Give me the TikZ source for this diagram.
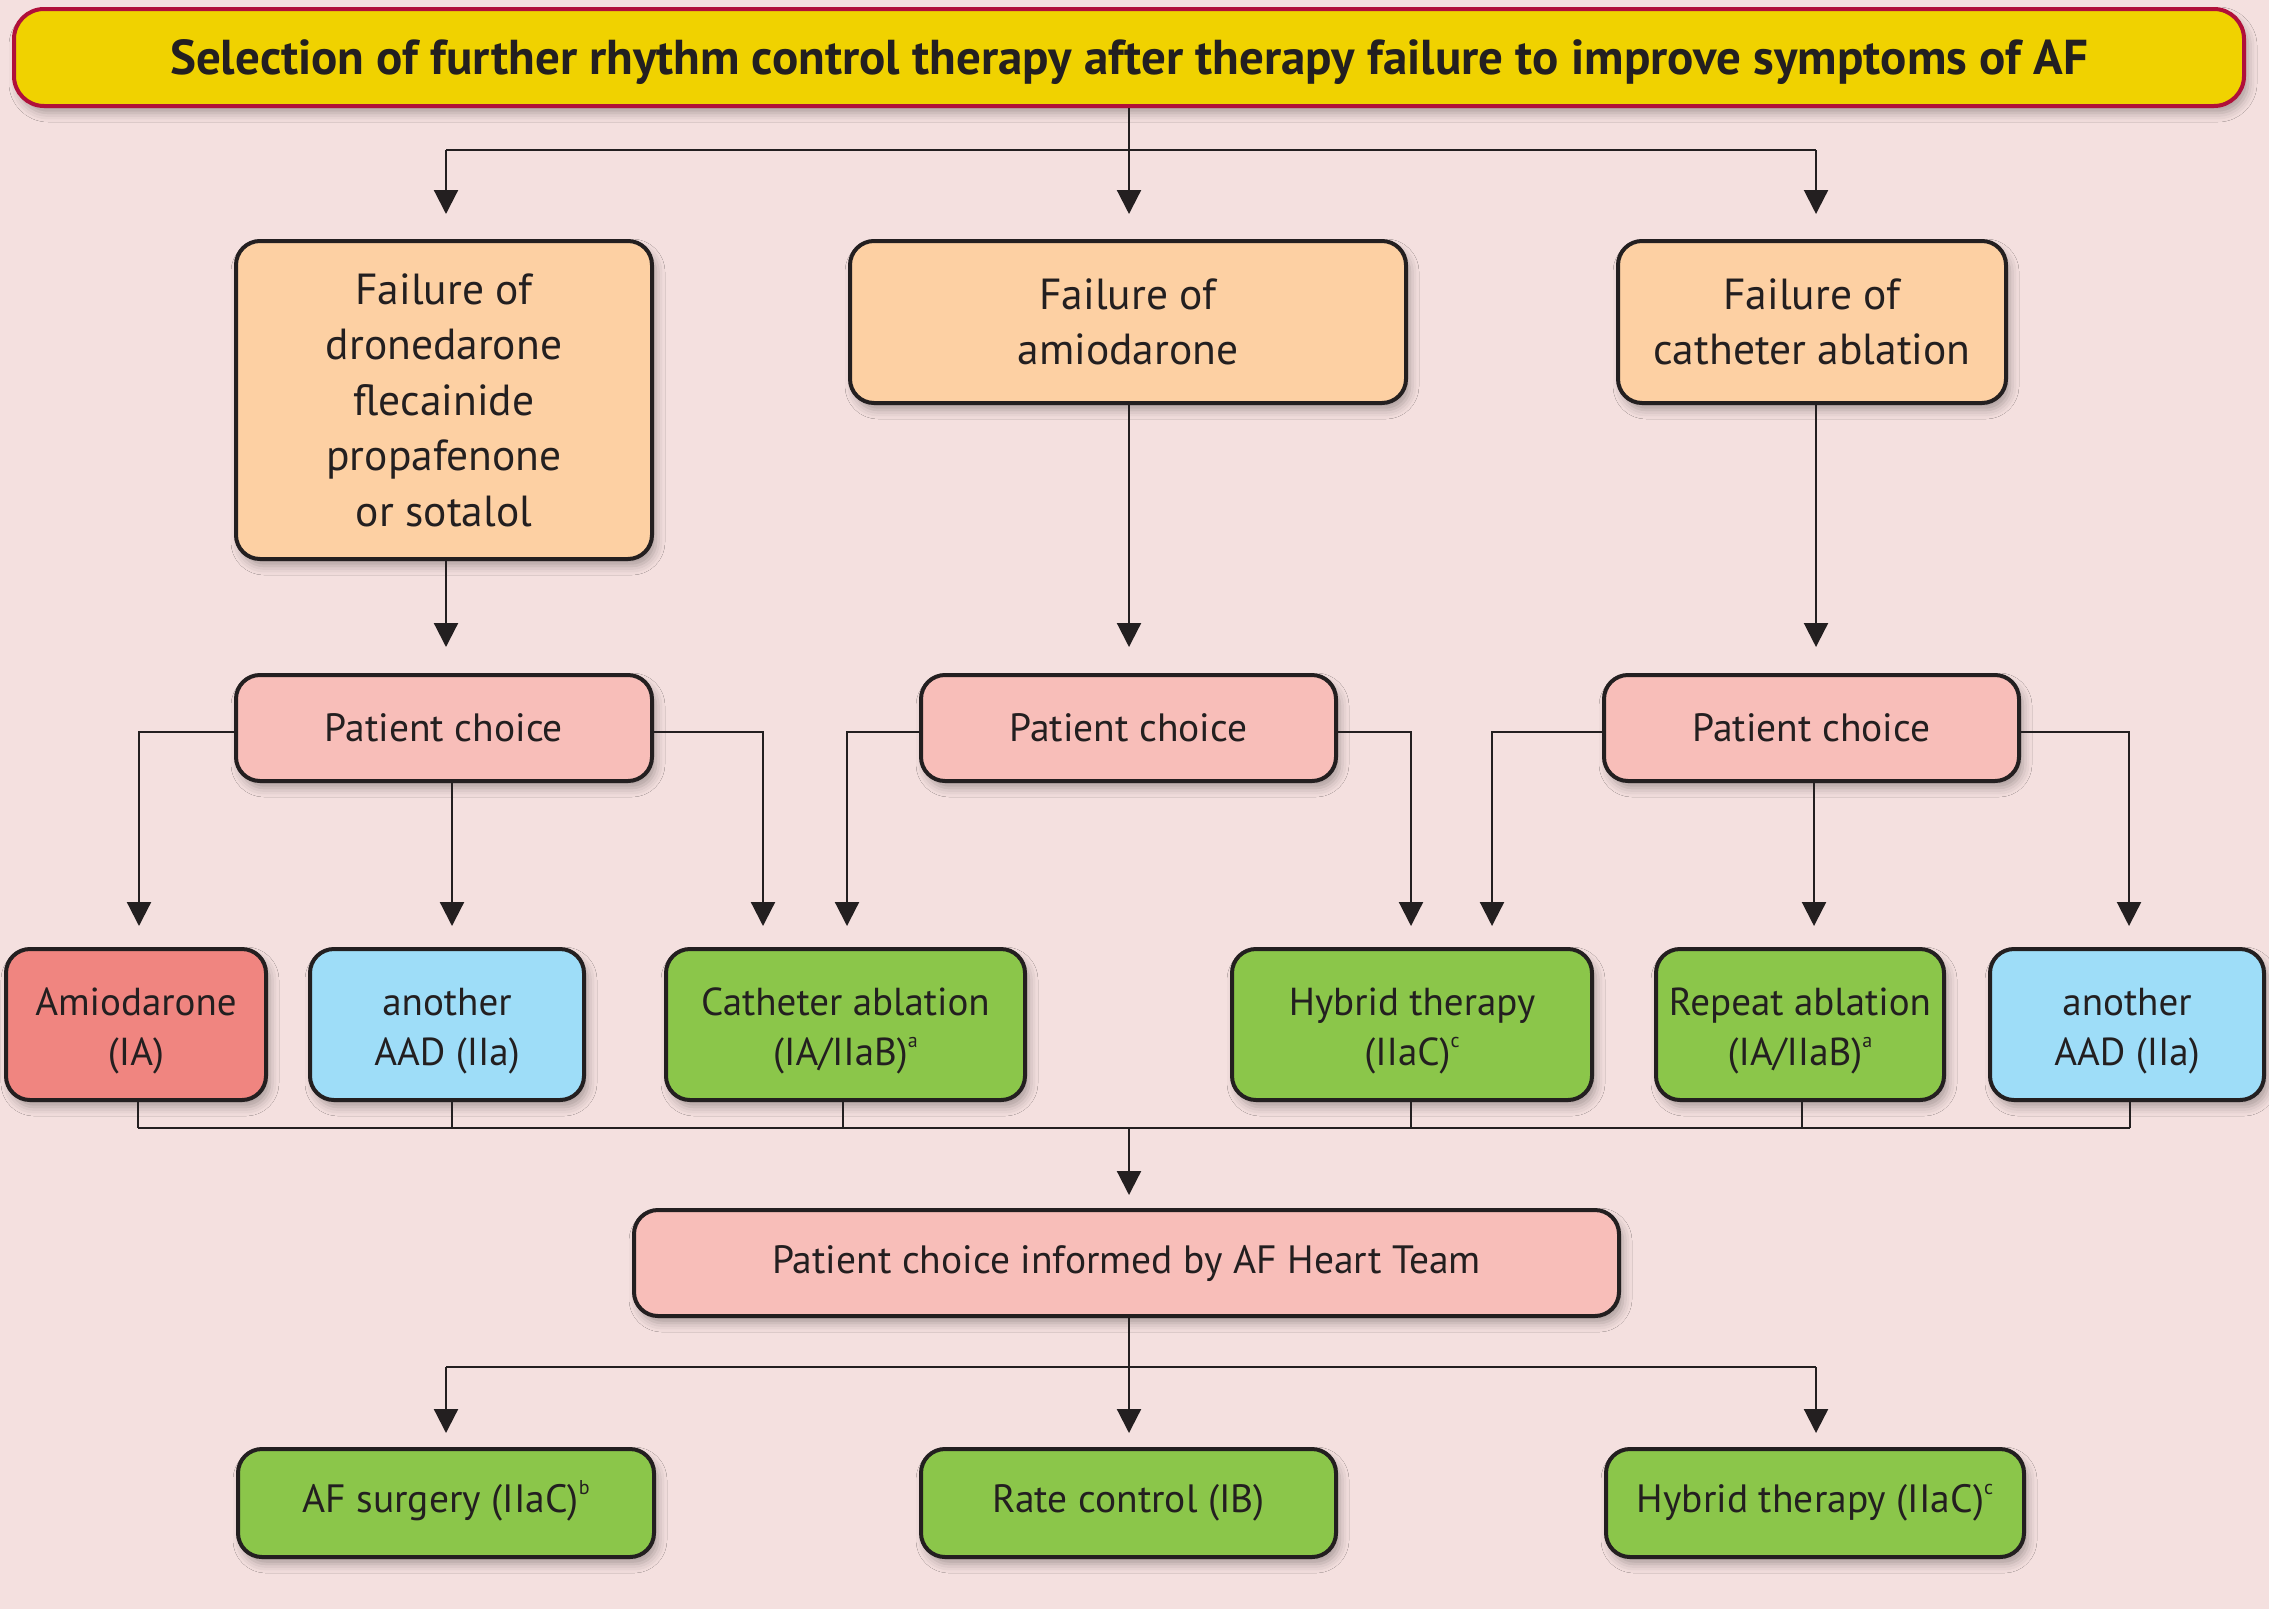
\documentclass[tikz,border=0pt]{standalone}
\usepackage{fontspec}
\setmainfont{PT Sans}
\usetikzlibrary{arrows.meta,shadows.blur}
\definecolor{bg}{HTML}{F4E0DF}
\definecolor{ink}{HTML}{231F20}
\definecolor{titlefill}{HTML}{F0D200}
\definecolor{titleedge}{HTML}{B0103A}
\definecolor{orangefill}{HTML}{FDD0A3}
\definecolor{pinkfill}{HTML}{F8BEB9}
\definecolor{salmonfill}{HTML}{F08580}
\definecolor{bluefill}{HTML}{9EDDF8}
\definecolor{greenfill}{HTML}{8BC64A}
\newcommand{\noteup}[1]{\raisebox{0.45em}[0pt][0pt]{\fontsize{20}{20}\selectfont #1}}
\newcommand{\lowstrut}{\rule{0pt}{40pt}}
\tikzset{
  box/.style={draw=ink, line width=4pt, rounded corners=24pt, align=center, text=ink, inner sep=0pt,
    blur shadow={shadow xshift=4pt, shadow yshift=-7pt, shadow blur radius=9pt, shadow opacity=30}},
  bigtxt/.style={font=\fontsize{43.5}{55.5}\selectfont},
  midtxt/.style={font=\fontsize{39.5}{50}\selectfont},
  smalltxt/.style={font=\fontsize{39}{50}\selectfont},
  conn/.style={draw=ink, line width=2.2pt},
  arr/.style={conn, -{Triangle[width=24pt,length=24pt]}},
}
\begin{document}
\begin{tikzpicture}[x=1pt,y=-1pt]
\fill[bg] (0,0) rectangle (2269,1609);
\useasboundingbox (0,0) rectangle (2269,1609);

% title
\node[box, draw=titleedge, fill=titlefill, minimum width=2230pt, minimum height=97pt, rounded corners=30pt,
  font=\bfseries\fontsize{49}{55}\selectfont] (title) at (1129,57.5)
  {\rule{0pt}{44pt}Selection of further rhythm control therapy after therapy failure to improve symptoms of AF};

% row 1
\node[box, fill=orangefill, minimum width=416pt, minimum height=318pt, bigtxt] (fa) at (444,400)
  {Failure of\\dronedarone\\flecainide\\propafenone\\or sotalol};
\node[box, fill=orangefill, minimum width=556pt, minimum height=162pt, bigtxt] (fb) at (1128,322)
  {Failure of\\amiodarone};
\node[box, fill=orangefill, minimum width=388pt, minimum height=162pt, bigtxt] (fc) at (1812,322)
  {Failure of\\catheter ablation};

% row 2
\node[box, fill=pinkfill, minimum width=416pt, minimum height=106pt, midtxt] (pa) at (444,728) {Patient choice};
\node[box, fill=pinkfill, minimum width=415pt, minimum height=106pt, midtxt] (pb) at (1128.5,728) {Patient choice};
\node[box, fill=pinkfill, minimum width=415pt, minimum height=106pt, midtxt] (pc) at (1811.5,728) {Patient choice};

% row 3
\node[box, fill=salmonfill, minimum width=260pt, minimum height=151pt, smalltxt] (amio) at (136,1024.5)
  {\lowstrut Amiodarone\\(IA)};
\node[box, fill=bluefill, minimum width=274pt, minimum height=151pt, smalltxt] (aada) at (447,1024.5)
  {\lowstrut another\\AAD (IIa)};
\node[box, fill=greenfill, minimum width=359pt, minimum height=151pt, smalltxt] (cath) at (845.5,1024.5)
  {\lowstrut Catheter ablation\\(IA/IIaB)\noteup{a}};
\node[box, fill=greenfill, minimum width=360pt, minimum height=151pt, smalltxt] (hyb) at (1412,1024.5)
  {\lowstrut Hybrid therapy\\(IIaC)\noteup{c}};
\node[box, fill=greenfill, minimum width=288pt, minimum height=151pt, smalltxt] (rep) at (1800,1024.5)
  {\lowstrut Repeat ablation\\(IA/IIaB)\noteup{a}};
\node[box, fill=bluefill, minimum width=274pt, minimum height=151pt, smalltxt] (aadb) at (2127,1024.5)
  {\lowstrut another\\AAD (IIa)};

% team
\node[box, fill=pinkfill, minimum width=985pt, minimum height=106pt, midtxt] (team) at (1126.5,1263)
  {Patient choice informed by AF Heart Team};

% bottom row
\node[box, fill=greenfill, minimum width=416pt, minimum height=108pt, midtxt] (surg) at (446,1503)
  {AF surgery (IIaC)\noteup{b}};
\node[box, fill=greenfill, minimum width=415pt, minimum height=108pt, midtxt] (rate) at (1128.5,1503)
  {Rate control (IB)};
\node[box, fill=greenfill, minimum width=418pt, minimum height=108pt, midtxt] (hybb) at (1815,1503)
  {Hybrid therapy (IIaC)\noteup{c}};

% connectors: title to row 1
\coordinate (tj) at (1129,150);
\coordinate (tl) at (446,150);
\coordinate (tr) at (1816,150);
\draw[conn] (title.south -| tj) -- (tj);
\draw[conn] (tl) -- (tr);
\draw[arr, shorten >=25pt] (tl) -- (tl |- fa.north);
\draw[arr, shorten >=25pt] (tj) -- (tj |- fb.north);
\draw[arr, shorten >=25pt] (tr) -- (tr |- fc.north);

% row 1 to patient choice
\draw[arr, shorten >=26pt] (fa.south -| tl) -- (tl |- pa.north);
\draw[arr, shorten >=26pt] (fb.south -| tj) -- (tj |- pb.north);
\draw[arr, shorten >=26pt] (fc.south -| tr) -- (tr |- pc.north);

% patient choice to row 3
\coordinate (a1) at (139,732);
\coordinate (a2) at (763,732);
\coordinate (b1) at (847,732);
\coordinate (b2) at (1411,732);
\coordinate (c1) at (1492,732);
\coordinate (c2) at (2129,732);
\coordinate (am) at (452,732);
\coordinate (cm) at (1814,732);
\draw[arr, shorten >=21pt] (pa.west |- a1) -- (a1) -- (a1 |- amio.north);
\draw[arr, shorten >=21pt] (pa.south -| am) -- (am |- aada.north);
\draw[arr, shorten >=21pt] (pa.east |- a2) -- (a2) -- (a2 |- cath.north);
\draw[arr, shorten >=21pt] (pb.west |- b1) -- (b1) -- (b1 |- cath.north);
\draw[arr, shorten >=21pt] (pb.east |- b2) -- (b2) -- (b2 |- hyb.north);
\draw[arr, shorten >=21pt] (pc.west |- c1) -- (c1) -- (c1 |- hyb.north);
\draw[arr, shorten >=21pt] (pc.south -| cm) -- (cm |- rep.north);
\draw[arr, shorten >=21pt] (pc.east |- c2) -- (c2) -- (c2 |- aadb.north);

% row 3 merge to team
\coordinate (ml) at (138,1128);
\coordinate (m2) at (452,1128);
\coordinate (m3) at (843,1128);
\coordinate (m4) at (1411,1128);
\coordinate (m5) at (1802,1128);
\coordinate (mr) at (2130,1128);
\coordinate (mj) at (1129,1128);
\draw[conn] (ml) -- (mr);
\draw[conn] (amio.south -| ml) -- (ml);
\draw[conn] (aada.south -| m2) -- (m2);
\draw[conn] (cath.south -| m3) -- (m3);
\draw[conn] (hyb.south -| m4) -- (m4);
\draw[conn] (rep.south -| m5) -- (m5);
\draw[conn] (aadb.south -| mr) -- (mr);
\draw[arr, shorten >=13pt] (mj) -- (mj |- team.north);

% team to bottom row
\coordinate (bj) at (1129,1367);
\coordinate (bl) at (446,1367);
\coordinate (br) at (1816,1367);
\draw[conn] (team.south -| bj) -- (bj);
\draw[conn] (bl) -- (br);
\draw[arr, shorten >=14pt] (bl) -- (bl |- surg.north);
\draw[arr, shorten >=14pt] (bj) -- (bj |- rate.north);
\draw[arr, shorten >=14pt] (br) -- (br |- hybb.north);
\end{tikzpicture}
\end{document}
